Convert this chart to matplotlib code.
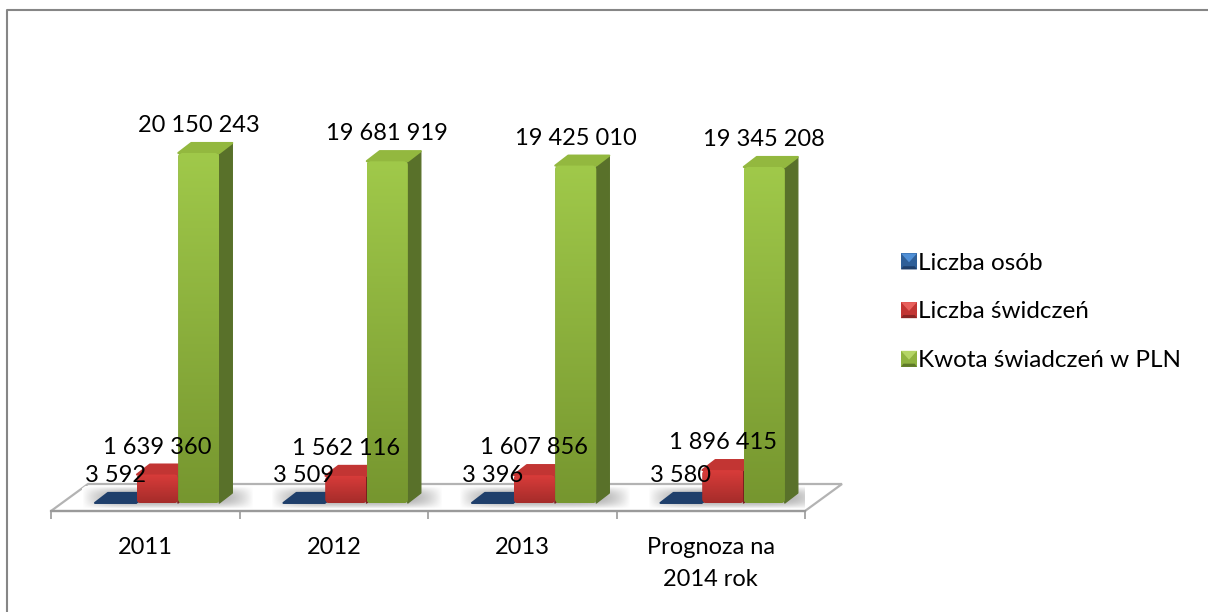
#!/usr/bin/env python
import numpy as np
import matplotlib
matplotlib.use('Agg')
from matplotlib import pyplot as plt
from matplotlib.lines import Line2D
from matplotlib.patches import Polygon, FancyBboxPatch, Rectangle, Patch
from matplotlib.legend_handler import HandlerBase
from matplotlib.colors import LinearSegmentedColormap
from matplotlib.transforms import Affine2D

plt.rcParams['font.family'] = ['Lato', 'DejaVu Sans']

W, H = 1208, 612
categories = ['2011', '2012', '2013', 'Prognoza na\n2014 rok']
series_names = ['Liczba osób', 'Liczba świdczeń', 'Kwota świadczeń w PLN']
liczba_osob = [3592, 3509, 3396, 3580]
liczba_swiadczen = [1639360, 1562116, 1607856, 1896415]
kwota = [20150243, 19681919, 19425010, 19345208]
labels_osob = ['3 592', '3 509', '3 396', '3 580']
labels_swiadczen = ['1 639 360', '1 562 116', '1 607 856', '1 896 415']
labels_kwota = ['20 150 243', '19 681 919', '19 425 010', '19 345 208']

# colours: front top, front bottom, side, top
front_cols = [('#2f5f98', '#1f3f6b'), ('#d93c3a', '#a52c2a'), ('#a0c94a', '#76962f')]
side_cols = ['#16304f', '#7a1f1e', '#59712a']
top_cols = ['#1f3f6b', '#c23533', '#93b83f']
legend_cols = [('#4f8fd6', '#2f5f98', '#1f3f6b'), ('#e8605c', '#c23533', '#8a2523'), ('#b4d565', '#8fb33f', '#5f7a28')]

FS = 17

fig = plt.figure(figsize=(W / 100, H / 100), dpi=100)
fig.patch.set_facecolor('white')
# chart frame, only left and top are inside the crop
fig.add_artist(Line2D([7 / W, 7 / W, 1], [0, 1 - 10 / H, 1 - 10 / H], transform=fig.transFigure,
                      color='#868686', linewidth=1.5))

ax = fig.add_axes([51 / W, 1 - 511 / H, 754 / W, 491 / H])
PX_PER_VAL = 17.37e-6
PX_PER_CAT = 188.5
ylims = (-8 / PX_PER_VAL, 483 / PX_PER_VAL)
ax.patch.set_visible(False)


def dpt(x, y):
    # reference pixel -> data
    return (x - 145.25) / PX_PER_CAT, (503 - y) / PX_PER_VAL


# floor
floor = Polygon([dpt(51, 511), dpt(805, 511), dpt(842, 484), dpt(88, 484)], closed=True,
                facecolor='white', edgecolor='#b3b3b3', linewidth=1.6, clip_on=False, zorder=1)
ax.add_patch(floor)

# soft shadow on the floor
shadow_cmap = LinearSegmentedColormap.from_list('sh', ['#ffffff', '#a8a8a8'])
for i in range(4):
    xs = np.linspace(-1, 1, 160)
    ys = np.linspace(-1, 1, 40)
    xx, yy = np.meshgrid(xs, ys)
    sh = np.clip(1 - np.abs(xx) ** 4, 0, 1) * np.clip(1 - np.abs(yy) ** 2, 0, 1)
    x0, y0 = dpt(82 + PX_PER_CAT * i, 509)
    x1, y1 = dpt(254 + PX_PER_CAT * i, 486)
    im = ax.imshow(sh, extent=(x0, x1, y0, y1), cmap=shadow_cmap, vmin=0, vmax=1,
                   aspect='auto', zorder=1.5, interpolation='bilinear')
    im.set_clip_path(floor)

bar_w = 41 / PX_PER_CAT
offsets = [-0.158, 0.0647, 0.284]
dx = 13 / PX_PER_CAT
dy = 10 / PX_PER_VAL
all_series = [liczba_osob, liczba_swiadczen, kwota]
all_labels = [labels_osob, labels_swiadczen, labels_kwota]
px_to_data = Affine2D().scale(1 / PX_PER_CAT, 1 / PX_PER_VAL)

for s, vals in enumerate(all_series):
    xpos = np.arange(4) + offsets[s]
    bars = ax.bar(xpos, vals, width=bar_w, color=front_cols[s][1], zorder=3 + s)
    cmap = LinearSegmentedColormap.from_list('f%d' % s, [front_cols[s][0], front_cols[s][1]])
    for b, val, lab in zip(bars, vals, all_labels[s]):
        x0 = b.get_x()
        x1 = x0 + b.get_width()
        top = b.get_height()
        z = 3 + s
        # side and top faces
        ax.add_patch(Polygon([(x1, 0), (x1 + dx, dy), (x1 + dx, top + dy), (x1, top)], closed=True,
                             facecolor=side_cols[s], edgecolor=side_cols[s], linewidth=1,
                             joinstyle='round', zorder=z))
        ax.add_patch(Polygon([(x0, top), (x0 + dx, top + dy), (x1 + dx, top + dy), (x1, top)], closed=True,
                             facecolor=top_cols[s], edgecolor=top_cols[s], linewidth=1.5,
                             joinstyle='round', zorder=z))
        if top > 1 / PX_PER_VAL:
            # rounded front face with vertical gradient
            rp = FancyBboxPatch((x0 * PX_PER_CAT, 0), (x1 - x0) * PX_PER_CAT, top * PX_PER_VAL,
                                boxstyle='round,pad=0,rounding_size=4', visible=False,
                                transform=px_to_data + ax.transData)
            ax.add_patch(rp)
            b.set_clip_path(rp)
            b.set_zorder(z + 0.05)
            grad = np.linspace(0, 1, 200).reshape(-1, 1)
            im = ax.imshow(grad, extent=(x0, x1, 0, top), origin='upper', cmap=cmap, aspect='auto', zorder=z + 0.1)
            im.set_clip_path(rp)
        ax.annotate(lab, (x0 + bar_w / 2, top), xytext=(0, 27.5), textcoords='offset pixels',
                    ha='center', va='center', fontsize=FS, color='black', zorder=20,
                    annotation_clip=False)

ax.set_xlim(-0.5, 3.5)
ax.set_ylim(*ylims)

# axis
for name in ['top', 'left', 'right']:
    ax.spines[name].set_visible(False)
ax.spines['bottom'].set_color('#9a9a9a')
ax.spines['bottom'].set_linewidth(1.6)
ax.set_yticks([])
ax.set_xticks(range(4))
ax.set_xticklabels(categories, fontsize=FS, linespacing=1.7)
ax.tick_params(axis='x', which='major', length=0, pad=18.4)
ax.set_xticks(np.arange(-0.5, 4), minor=True)
ax.tick_params(axis='x', which='minor', length=6, width=1.2, color='#9a9a9a')


class BevelHandler(HandlerBase):
    def create_artists(self, legend, orig, xd, yd, width, height, fontsize, trans):
        light, mid, dark = orig.bevel
        side = min(width, height)
        x0, y0 = -xd, -yd
        return [Rectangle((x0, y0), side, side, facecolor=mid, edgecolor='none', transform=trans),
                Polygon([(x0, y0 + side), (x0 + side, y0 + side), (x0 + side / 2, y0 + side * 0.45)],
                        closed=True, facecolor=light, edgecolor='none', transform=trans),
                Polygon([(x0, y0), (x0 + side, y0), (x0 + side * 0.85, y0 + side * 0.2),
                         (x0 + side * 0.15, y0 + side * 0.2)],
                        closed=True, facecolor=dark, edgecolor='none', transform=trans)]


handles = []
for name, bev in zip(series_names, legend_cols):
    h = Patch(label=name, facecolor=bev[1])
    h.bevel = bev
    handles.append(h)
fig.legend(handles=handles, loc='center left', bbox_to_anchor=(901 / W, 1 - 312 / H), frameon=False,
           fontsize=17.5, handler_map={Patch: BevelHandler()}, labelspacing=1.14,
           handlelength=0.66, handleheight=0.66, handletextpad=0.04, borderpad=0, borderaxespad=0)

plt.savefig('out.png', dpi=100)
